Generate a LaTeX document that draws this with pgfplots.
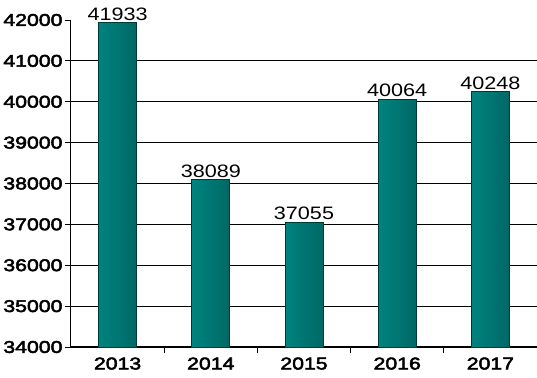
\documentclass[border=0pt]{standalone}
\usepackage{pgfplots}
\pgfplotsset{compat=1.18}
\usepackage{fontspec}
\setmainfont{Liberation Sans}
\newfontfamily\tickfont[FakeStretch=1.25, FakeBold=3]{Liberation Sans}
\newfontfamily\valfont[FakeStretch=1.2]{Liberation Sans}
\definecolor{tealL}{HTML}{00837F}
\definecolor{tealM}{HTML}{00807C}
\definecolor{tealR}{HTML}{006865}
\definecolor{tealB}{HTML}{003836}
\begin{document}
\begin{tikzpicture}
\begin{axis}[
  name=ax,
  scale only axis,
  width=466pt, height=327pt,
  xmin=-0.5, xmax=4.5,
  ymin=34000, ymax=42000,
  axis x line*=bottom, axis y line*=left,
  axis line style={-, line width=1pt, black},
  xtick={0,1,2,3,4},
  xticklabels={2013,2014,2015,2016,2017},
  major x tick style={draw=none},
  minor xtick={0.5,1.5,2.5,3.5},
  minor x tick style={black, line width=0.8pt},
  minor tick length=6pt,
  ytick={34000,35000,...,41000},
  extra y ticks={42000},
  extra y tick labels={42000},
  extra y tick style={grid=none},
  ymajorgrids,
  grid style={black, line width=0.9pt},
  major tick length=6pt,
  tick align=outside,
  y tick style={black, line width=0.8pt},
  scaled y ticks=false,
  yticklabel style={font=\tickfont\fontsize{17}{17}\selectfont, xshift=1pt},
  xticklabel style={font=\tickfont\fontsize{17}{17}\selectfont, yshift=-1pt},
  /pgf/number format/assume math mode=true,
  /pgf/number format/set thousands separator={},
  ybar, bar width=38pt, bar shift=0pt,
  nodes near coords,
  every node near coord/.append style={font=\valfont\fontsize{18}{18}\selectfont, /pgf/number format/set thousands separator={}, inner sep=2pt},
  clip=false,
  mybar/.style={draw=tealB, line width=0.8pt, left color=tealL, middle color=tealM, right color=tealR},
]
\addplot[mybar] coordinates {(0,41933)};
\addplot[mybar] coordinates {(1,38089)};
\addplot[mybar] coordinates {(2,37055)};
\addplot[mybar] coordinates {(3,40064)};
\addplot[mybar] coordinates {(4,40248)};
\end{axis}
\pgfresetboundingbox
\path (ax.south west) ++(-71pt,-31pt) coordinate (bl);
\path (ax.north east) ++(0pt,20pt) coordinate (tr);
\path[use as bounding box] (bl) rectangle (tr);
\end{tikzpicture}
\end{document}
